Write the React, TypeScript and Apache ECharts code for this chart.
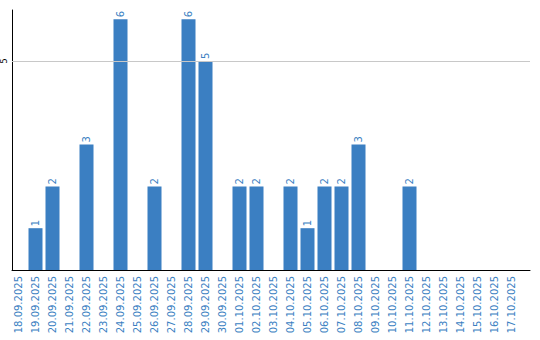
import React, { useEffect, useRef } from "react";
import * as echarts from "echarts";

const categories = [
  "18.09.2025", "19.09.2025", "20.09.2025", "21.09.2025", "22.09.2025", "23.09.2025",
  "24.09.2025", "25.09.2025", "26.09.2025", "27.09.2025", "28.09.2025", "29.09.2025",
  "30.09.2025", "01.10.2025", "02.10.2025", "03.10.2025", "04.10.2025", "05.10.2025",
  "06.10.2025", "07.10.2025", "08.10.2025", "09.10.2025", "10.10.2025", "11.10.2025",
  "12.10.2025", "13.10.2025", "14.10.2025", "15.10.2025", "16.10.2025", "17.10.2025",
];
const counts = [0, 1, 2, 0, 3, 0, 6, 0, 2, 0, 6, 5, 0, 2, 2, 0, 2, 1, 2, 2, 3, 0, 0, 2, 0, 0, 0, 0, 0, 0];
const yTicks = [5];

const BLUE = "#3b7fc2";
const Y_MAX = 6.22;

export default function App() {
  const ref = useRef<HTMLDivElement>(null);
  useEffect(() => {
    const chart = echarts.init(ref.current!, null, { renderer: "svg" });
    chart.setOption({
      animation: false,
      grid: [
        { left: 10.5, right: 10, top: 10, bottom: 70, containLabel: false },
        { left: 10, right: 20, top: 10, bottom: 70, containLabel: false },
      ],
      xAxis: [
        {
          type: "value",
          gridIndex: 0,
          min: 0,
          max: 1,
          axisLine: { show: true, onZero: false, lineStyle: { color: "#000", width: 1 } },
          axisTick: { show: false },
          axisLabel: { show: false },
          splitLine: { show: false },
        },
        {
          type: "category",
          gridIndex: 1,
          data: categories,
          axisLine: { show: false },
          axisTick: { show: false },
          axisLabel: {
            rotate: 90,
            interval: 0,
            color: BLUE,
            fontFamily: "DejaVu Sans",
            fontSize: 10,
            margin: 6,
          },
        },
      ],
      yAxis: [
        {
          type: "value",
          gridIndex: 0,
          min: 0,
          max: Y_MAX,
          interval: 5,
          axisLine: { show: true, lineStyle: { color: "#000", width: 1 } },
          axisTick: { show: false },
          splitLine: { show: false },
          axisLabel: {
            rotate: 90,
            color: "#000",
            fontFamily: "DejaVu Sans",
            fontSize: 8,
            margin: 4,
            showMinLabel: false,
            showMaxLabel: false,
            formatter: (v: number) => (yTicks.includes(v) ? String(v) : ""),
          },
        },
        {
          type: "value",
          gridIndex: 1,
          min: 0,
          max: Y_MAX,
          show: false,
          splitLine: { show: false },
        },
      ],
      series: [
        {
          type: "line",
          xAxisIndex: 0,
          yAxisIndex: 0,
          data: [],
          markLine: {
            silent: true,
            symbol: "none",
            label: { show: false },
            lineStyle: { color: "#c8c8c8", width: 1, type: "solid" },
            data: yTicks.map((t) => ({ yAxis: t })),
          },
        },
        {
          type: "bar",
          xAxisIndex: 1,
          yAxisIndex: 1,
          data: counts.map((v) => (v === 0 ? null : v)),
          barWidth: 14,
          itemStyle: { color: BLUE },
          label: {
            show: true,
            position: "top",
            rotate: 90,
            align: "left",
            verticalAlign: "middle",
            distance: 2,
            color: BLUE,
            fontFamily: "DejaVu Sans",
            fontSize: 10,
          },
        },
      ],
    });
    return () => chart.dispose();
  }, []);
  return <div ref={ref} style={{ width: 540, height: 340, position: "absolute", left: 0, top: 0 }} />;
}
